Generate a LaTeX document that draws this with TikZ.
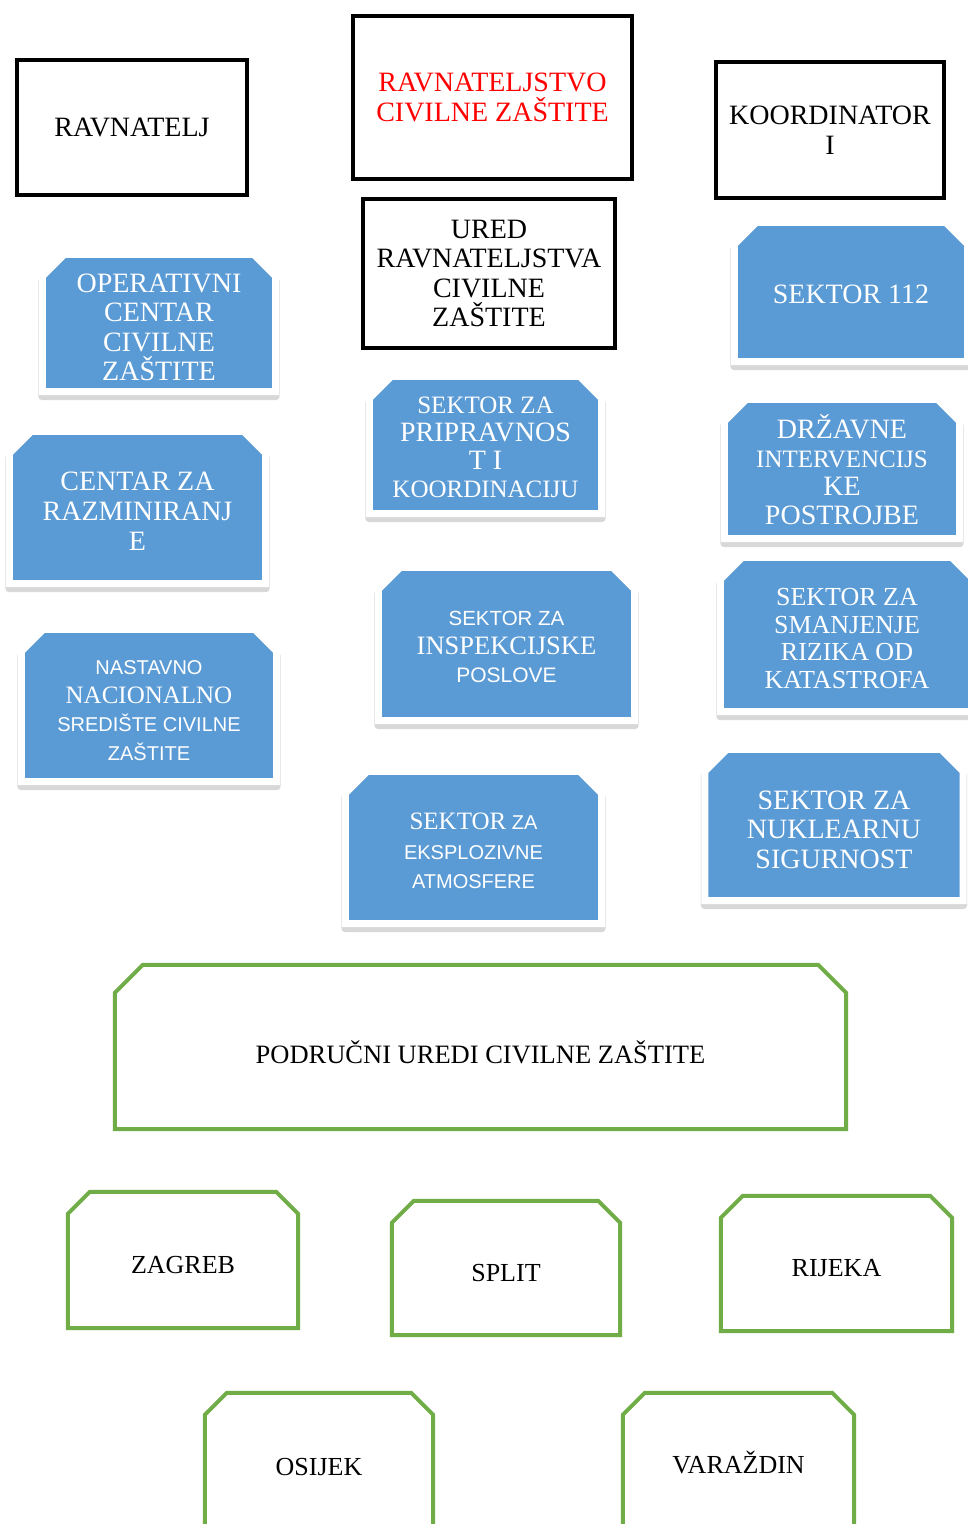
\documentclass[tikz,border=0pt]{standalone}
\usepackage{fontspec}
\setmainfont{Liberation Serif}
\newfontfamily\sansf{Liberation Sans}
\pgfdeclarelayer{bg}
\pgfsetlayers{bg,main}
\definecolor{cblue}{HTML}{5B9BD5}
\definecolor{cgreen}{HTML}{70AD47}
\definecolor{shade}{HTML}{D8D8D8}
\newcommand\fsz[2]{\fontsize{#1}{#2}\selectfont}
% #1 node, #2 cut, #3 style, #4 vertical offset of shape (pt, up)
\newcommand\snipout[4]{\path[#3] ([yshift=#4pt]#1.south west) -- ([yshift=#4pt-#2pt]#1.north west) -- ([xshift=#2pt,yshift=#4pt]#1.north west) -- ([xshift=-#2pt,yshift=#4pt]#1.north east) -- ([yshift=#4pt-#2pt]#1.north east) -- ([yshift=#4pt]#1.south east) -- cycle;}
\newcommand\bluesnip[2][4]{\begin{pgfonlayer}{bg}
 \snipout{#2}{22}{fill=shade,draw=shade,line width=8pt,line join=round,transform canvas={yshift=-4.5pt}}{#1}
 \snipout{#2}{22}{fill=cblue,draw=white,line width=7pt}{#1}
\end{pgfonlayer}}
\newcommand\greensnip[3][5]{\begin{pgfonlayer}{bg}
 \snipout{#2}{#3}{draw=cgreen,line width=4pt,line join=miter}{#1}
\end{pgfonlayer}}
\tikzset{
 blackbox/.style={draw=black,line width=4pt,inner sep=0pt,align=center,font=\fsz{28}{29.5}},
 bluebox/.style={inner sep=0pt,align=center,text=white,font=\fsz{28}{29.5}},
 greenbox/.style={inner sep=0pt,align=center,font=\fsz{26}{28}},
}
\begin{document}
\begin{tikzpicture}[x=1pt,y=-1pt]
\begin{pgfonlayer}{bg}
\fill[white] (0,0) rectangle (968,1524);
\end{pgfonlayer}
\useasboundingbox (0,0) rectangle (968,1524);

% black boxes
\node[blackbox,minimum width=230,minimum height=135] (rav) at (132,127.5) {RAVNATELJ};
\node[blackbox,minimum width=279,minimum height=163,text=red] (rcz) at (492.5,97.5) {RAVNATELJSTVO\\CIVILNE ZAŠTITE};
\node[blackbox,minimum width=228,minimum height=136] (koord) at (830,130) {KOORDINATOR\\I};
\node[blackbox,minimum width=252,minimum height=149] (ured) at (489,273.5) {URED\\RAVNATELJSTVA\\CIVILNE\\ZAŠTITE};

% blue boxes (node placed at text centre, shape drawn offset)
\node[bluebox,minimum width=233,minimum height=137] (opc) at (159,327.5) {OPERATIVNI\\CENTAR\\CIVILNE\\ZAŠTITE};
\bluesnip[4.5]{opc}
\node[bluebox,minimum width=256,minimum height=152,font=\fsz{28}{30}] (cenraz) at (137.5,511.5) {CENTAR ZA\\RAZMINIRANJ\\E};
\bluesnip[4]{cenraz}
\node[bluebox,minimum width=255,minimum height=152,font=\fsz{25}{28.7}] (nast) at (149,710.5) {{\sansf\fsz{20}{28.7}NASTAVNO}\\NACIONALNO\\{\sansf\fsz{20}{28.7}SREDIŠTE CIVILNE}\\{\sansf\fsz{20}{28.7}ZAŠTITE}};
\bluesnip[5]{nast}
\node[bluebox,minimum width=232,minimum height=137,font=\fsz{28}{28}] (prip) at (485.5,447.5) {{\fsz{25}{28}SEKTOR ZA}\\PRIPRAVNOS\\T I\\{\fsz{25}{28}KOORDINACIJU}};
\bluesnip[2.5]{prip}
\node[bluebox,minimum width=256,minimum height=153,font=\fsz{26.5}{28.5}] (insp) at (506.5,647) {{\sansf\fsz{20.5}{28.5}SEKTOR ZA}\\INSPEKCIJSKE\\{\sansf\fsz{21}{28.5}POSLOVE}};
\bluesnip[3]{insp}
\node[bluebox,minimum width=256,minimum height=152,font=\fsz{20}{29.5}\sansf] (eksp) at (473.5,851) {{\rmfamily\fsz{25}{29.5}SEKTOR} ZA\\EKSPLOZIVNE\\ATMOSFERE};
\bluesnip[3.5]{eksp}
\node[bluebox,minimum width=233,minimum height=139] (s112) at (851,294) {SEKTOR 112};
\bluesnip[2]{s112}
\node[bluebox,minimum width=235,minimum height=139,font=\fsz{28}{28.7}] (dip) at (842,469.5) {DRŽAVNE\\{\fsz{25}{28.7}INTERVENCIJS}\\KE\\POSTROJBE};
\bluesnip[0.5]{dip}
\node[bluebox,minimum width=253,minimum height=154,font=\fsz{26}{27.5}] (smanj) at (847,638.5) {SEKTOR ZA\\SMANJENJE\\RIZIKA OD\\KATASTROFA};
\bluesnip[4]{smanj}
\node[bluebox,minimum width=258,minimum height=151] (nukl) at (834,829.5) {SEKTOR ZA\\NUKLEARNU\\SIGURNOST};
\bluesnip[4.5]{nukl}

% green boxes (node placed at text centre, shape drawn offset)
\node[greenbox,minimum width=731,minimum height=164,font=\fsz{26.5}{28}] (podr) at (480.5,1052) {PODRUČNI UREDI CIVILNE ZAŠTITE};
\greensnip[5]{podr}{28}
\node[greenbox,minimum width=230,minimum height=136] (zagreb) at (183,1265) {ZAGREB};
\greensnip[5]{zagreb}{22}
\node[greenbox,minimum width=228,minimum height=134] (split) at (506,1273) {SPLIT};
\greensnip[5]{split}{22}
\node[greenbox,minimum width=231,minimum height=135] (rijeka) at (836.5,1268.5) {RIJEKA};
\greensnip[5]{rijeka}{22}
\node[greenbox,minimum width=228,minimum height=150] (osijek) at (319,1467) {OSIJEK};
\greensnip[-1]{osijek}{22}
\node[greenbox,minimum width=231,minimum height=150] (varazdin) at (738.5,1463) {VARAŽDIN};
\greensnip[-5]{varazdin}{22}
\end{tikzpicture}
\end{document}
